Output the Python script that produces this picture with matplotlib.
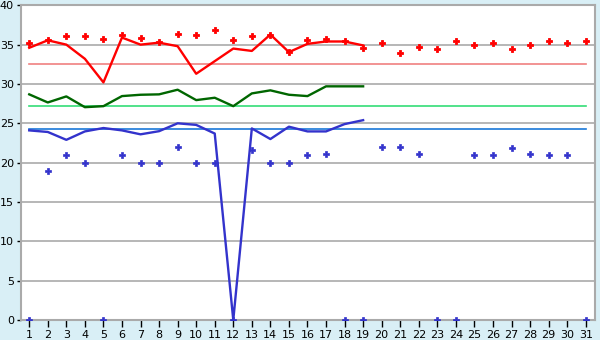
import numpy as np
import matplotlib
matplotlib.use("Agg")
import matplotlib.pyplot as plt

days = list(range(1, 32))

# daily max markers (red)
max_vals = [35.2, 35.55, 36.15, 36.06, 35.77, 36.28, 35.9, 35.38, 36.4, 36.28,
            36.8, 35.64, 36.06, 36.28, 34.05, 35.55, 35.77, 35.5, 34.6, 35.25,
            33.97, 34.74, 34.5, 35.5, 35.0, 35.25, 34.5, 35.0, 35.5, 35.25, 35.5]
# daily min markers (blue)
min_vals = [0, 19.0, 21.0, 20.0, 0, 21.0, 20.0, 20.0, 22.05, 20.0,
            20.0, 0, 21.65, 20.0, 20.0, 21.0, 21.15, 0, 0, 22.05,
            22.05, 21.15, 0, 0, 21.0, 21.0, 21.8, 21.15, 21.0, 21.0, 0]

# lines, days 1..19
line_days = list(range(1, 20))
red_line = [34.6, 35.55, 35.0, 33.2, 30.2, 35.9, 35.0, 35.25, 34.8, 31.3,
            32.9, 34.5, 34.2, 36.28, 34.05, 35.1, 35.4, 35.4, 34.9]
green_line = [28.68, 27.65, 28.42, 27.05, 27.18, 28.46, 28.63, 28.68, 29.27, 27.95,
              28.25, 27.18, 28.8, 29.19, 28.63, 28.46, 29.7, 29.7, 29.7]
blue_line = [24.1, 23.9, 22.9, 23.97, 24.4, 24.1, 23.6, 24.0, 25.0, 24.8,
             23.7, 0, 24.35, 23.0, 24.57, 23.97, 23.97, 24.9, 25.4]

# averages
red_avg = 32.56
green_avg = 27.18
blue_avg = 24.23

bg = "#d9eff6"
fig = plt.figure(figsize=(6, 3.4), dpi=100, facecolor=bg)
ax = fig.add_axes([20.7 / 600, 1 - 320 / 340, (595 - 20.7) / 600, (320 - 5.3) / 340])
ax.set_facecolor("white")

for y in range(5, 45, 5):
    ax.axhline(y, color="#aaaaaa", lw=1.2, zorder=1)

ax.plot([days[0], days[-1]], [red_avg, red_avg], color="#f08080", lw=1.2, zorder=2)
ax.plot([days[0], days[-1]], [green_avg, green_avg], color="#33dd77", lw=1.2, zorder=2)
ax.plot([days[0], days[-1]], [blue_avg, blue_avg], color="#1a78d8", lw=1.2, zorder=2)

ax.plot(line_days, red_line, color="#ff0000", lw=1.7, zorder=3)
ax.plot(line_days, green_line, color="#006600", lw=1.7, zorder=3)
ax.plot(line_days, blue_line, color="#3333cc", lw=1.7, zorder=3)

ax.plot(days, max_vals, ls="none", marker="P", ms=5, color="#ff0000",
        mec="#ff0000", mew=0.6, zorder=4)
ax.plot(days, min_vals, ls="none", marker="P", ms=4, color="#3333cc",
        mec="#3333cc", mew=0.5, zorder=4)

ax.set_xlim(0.54, 31.5)
ax.set_ylim(0, 40)
ax.set_xticks(days)
ax.set_yticks(range(0, 45, 5))
ax.tick_params(axis="both", colors="black", labelsize=8, width=1, direction="out")
ax.tick_params(axis="x", length=5, pad=2)
ax.tick_params(axis="y", length=3, pad=2)
for s in ax.spines.values():
    s.set_color("#aaaaaa")
    s.set_linewidth(1.5)

fig.savefig("out.png", dpi=100, facecolor=bg)
